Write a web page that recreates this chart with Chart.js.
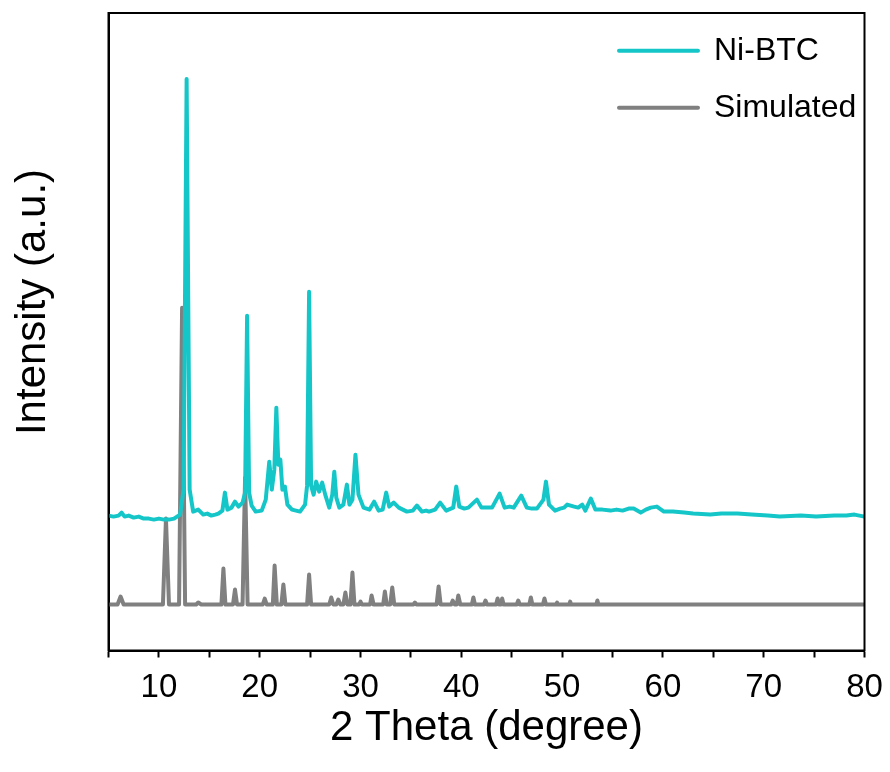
<!DOCTYPE html>
<html><head><meta charset="utf-8">
<script src="https://cdn.jsdelivr.net/npm/chart.js@4.4.1/dist/chart.umd.min.js"></script>
<style>html,body{margin:0;padding:0;background:#fff;}canvas{display:block;}</style>
</head><body>
<canvas id="c" width="890" height="772"></canvas>
<script>
// ---- data ----
const X_TITLE = '2 Theta (degree)';
const Y_TITLE = 'Intensity (a.u.)';
const SERIES_NAMES = ['Ni-BTC', 'Simulated'];
const X_TICKS = [10, 20, 30, 40, 50, 60, 70, 80];

const niBtcTheta = [5.0,5.5,6.0,6.3,6.6,7.0,7.5,8.0,8.5,9.0,9.5,10.0,10.5,11.0,11.5,12.1,12.45,12.75,13.05,13.4,13.9,14.4,14.8,15.2,15.6,15.9,16.3,16.55,16.8,17.2,17.55,17.9,18.3,18.55,18.75,18.95,19.2,19.6,20.2,20.6,20.95,21.2,21.45,21.65,21.85,22.05,22.25,22.5,22.75,23.2,23.6,24.0,24.5,24.7,24.9,25.1,25.35,25.6,25.9,26.2,26.5,26.9,27.2,27.4,27.6,27.9,28.3,28.65,28.9,29.2,29.5,29.8,30.3,30.9,31.35,31.8,32.2,32.55,32.85,33.3,33.8,34.2,34.6,35.2,35.6,36.1,36.5,36.8,37.4,37.9,38.5,39.2,39.5,39.8,40.3,40.7,41.55,42.0,42.4,43.05,43.8,44.3,44.8,45.2,45.95,46.5,47.0,47.5,48.15,48.4,48.7,49.3,49.8,50.2,50.5,51.2,51.6,52.0,52.3,52.85,53.3,54.0,54.8,55.4,56.0,56.6,57.1,57.8,58.3,58.8,59.4,60.1,61.0,62.1,63.0,64.7,65.8,67.4,68.8,70.4,71.6,73.7,75.2,77.0,78.2,79.0,80.0];
const niBtcIntensity = [135,134,135,138,134,135,133,134,132,132,131,132,131,131,132,136,161,572,161,139,141,136,137,135,136,137,140,158,141,143,149,144,148,158,335,158,145,139,140,151,189,161,181,243,186,191,161,164,146,141,140,139,146,165,359,165,156,169,159,168,156,143,156,179,153,143,146,166,146,151,196,156,143,141,149,140,141,158,144,148,143,141,139,140,145,139,140,139,141,148,140,143,164,144,142,143,151,143,143,143,157,143,144,143,155,143,142,142,151,169,146,140,142,143,146,144,143,146,140,152,141,141,140,141,140,142,142,138,141,143,144,139,139,138,137,136,137,137,136,135,134,135,134,135,135,136,134];

const simTheta = [5.0,5.9,6.2,6.5,10.4,10.7,11.0,12.0,12.3,12.6,13.7,13.9,14.2,16.2,16.4,16.6,17.35,17.55,17.75,18.3,18.55,18.8,20.3,20.5,20.7,21.3,21.48,21.7,22.15,22.35,22.55,24.7,24.9,25.1,26.9,27.1,27.3,27.6,27.8,28.0,28.3,28.5,28.7,29.0,29.2,29.4,29.85,30.0,30.15,30.95,31.1,31.3,32.25,32.42,32.6,32.95,33.15,33.35,35.25,35.4,35.55,37.55,37.75,37.95,39.0,39.15,39.35,39.55,39.7,39.9,41.05,41.2,41.35,42.25,42.4,42.55,43.45,43.6,43.75,43.95,44.05,44.2,45.5,45.65,45.8,46.75,46.9,47.05,48.1,48.25,48.4,49.4,49.5,49.6,50.7,50.8,50.9,53.4,53.5,53.6,60.0,70.0,80.0];
const simIntensity = [46,46,54,46,46,132,46,46,343,46,46,48,46,46,82,46,46,61,46,46,173,46,46,52,46,46,85,46,46,66,46,46,76,46,46,53,46,46,51,46,46,58,46,46,78,46,46,49,46,46,55,46,46,59,46,46,63,46,46,48,46,46,64,46,46,50,46,46,55,46,46,53,46,46,50,46,46,52,46,46,52,46,46,50,46,46,53,46,46,52,46,46,48,46,46,49,46,46,50,46,46,46,46];

// ---- chart ----
const toPoints = (xs, ys) => xs.map((x, i) => ({x: x, y: ys[i]}));
const TEAL = '#14c6c8';
const GRAY = '#808080';
const TITLE_FONT = {family: '"Liberation Sans", Arial, sans-serif', size: 42};
const TICK_FONT = {family: '"Liberation Sans", Arial, sans-serif', size: 33};

const framePlugin = {
  id: 'frame',
  beforeDraw(chart) {
    const lg = chart.legend;
    if (lg) { lg.left = 594; lg.top = 9.7; }
  },
  afterDraw(chart) {
    const a = chart.chartArea, ctx = chart.ctx;
    ctx.save();
    ctx.strokeStyle = '#000';
    ctx.lineWidth = 2;
    ctx.strokeRect(a.left, a.top, a.right - a.left, a.bottom - a.top);
    // y axis title
    ctx.translate(33, 302);
    ctx.rotate(-Math.PI / 2);
    ctx.font = TITLE_FONT.size + 'px ' + TITLE_FONT.family;
    ctx.fillStyle = '#000';
    ctx.textAlign = 'center';
    ctx.textBaseline = 'middle';
    ctx.fillText(Y_TITLE, 0, 0);
    ctx.restore();
  }
};

new Chart(document.getElementById('c'), {
  type: 'line',
  data: {
    datasets: [
      {label: SERIES_NAMES[0], data: toPoints(niBtcTheta, niBtcIntensity), borderColor: TEAL, backgroundColor: TEAL,
       borderWidth: 4, pointRadius: 0, tension: 0, fill: false, borderJoinStyle: 'round', borderCapStyle: 'round'},
      {label: SERIES_NAMES[1], data: toPoints(simTheta, simIntensity), borderColor: GRAY, backgroundColor: GRAY,
       borderWidth: 4, pointRadius: 0, tension: 0, fill: false, borderJoinStyle: 'round', borderCapStyle: 'round'}
    ]
  },
  options: {
    responsive: false,
    animation: false,
    devicePixelRatio: 1,
    layout: {padding: {top: 13, right: 25.5, left: 0, bottom: 0}},
    plugins: {
      tooltip: {enabled: false},
      legend: {
        position: 'chartArea',
        align: 'start',
        labels: {boxWidth: 79, boxHeight: 0, padding: 25, color: '#000',
                 font: {family: '"Liberation Sans", Arial, sans-serif', size: 32}}
      }
    },
    scales: {
      x: {
        type: 'linear', min: 5, max: 80, position: 'bottom',
        afterFit: s => { s.height = 121.5; s.paddingLeft = 0; s.paddingRight = 0; },
        ticks: {stepSize: 5, autoSkip: false, maxRotation: 0, color: '#000', font: TICK_FONT, padding: 11,
                callback: v => X_TICKS.includes(v) ? String(v) : ''},
        grid: {drawOnChartArea: false, drawTicks: true, tickLength: 7, tickWidth: 2, color: '#000'},
        border: {display: true, color: '#000', width: 2},
        title: {display: true, text: X_TITLE, color: '#000', font: TITLE_FONT, padding: {top: 0, bottom: 18}}
      },
      y: {
        type: 'linear', min: 0, max: 638,
        afterFit: s => { s.width = 108.5; s.paddingTop = 0; s.paddingBottom = 0; },
        ticks: {display: false},
        grid: {display: false},
        border: {display: true, color: '#000', width: 2},
        title: {display: false, text: Y_TITLE}
      }
    }
  },
  plugins: [framePlugin]
});
</script>
</body></html>
